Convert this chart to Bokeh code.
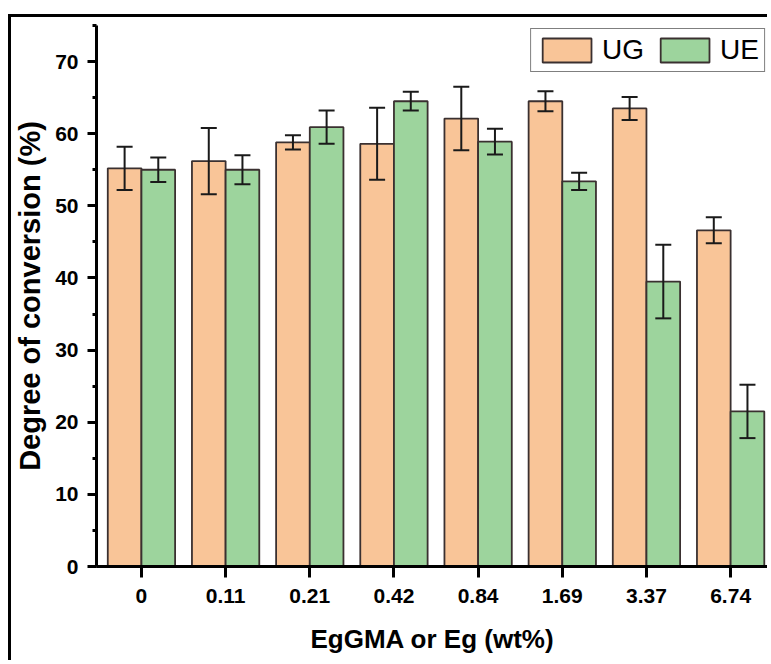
import numpy as np
from bokeh.plotting import figure
from bokeh.models import (ColumnDataSource, Range1d, FixedTicker, SingleIntervalTicker,
                          Whisker, TeeHead)
from bokeh.embed import file_html
from bokeh.resources import INLINE

# ---- data ----
categories = ["0", "0.11", "0.21", "0.42", "0.84", "1.69", "3.37", "6.74"]
ug_values = [55.2, 56.2, 58.8, 58.6, 62.1, 64.5, 63.5, 46.6]
ug_errors = [3.0, 4.6, 1.0, 5.0, 4.4, 1.4, 1.6, 1.8]
ue_values = [55.0, 55.0, 60.9, 64.5, 58.9, 53.4, 39.5, 21.5]
ue_errors = [1.7, 2.0, 2.3, 1.3, 1.8, 1.2, 5.1, 3.7]
series_names = ["UG", "UE"]

UG_COLOR = "#F9C598"
UE_COLOR = "#9DD49D"
EDGE = "#3a3030"
FONT = "'Liberation Sans', Arial, sans-serif"

idx = np.arange(len(categories))
bar_w = 0.4

def make_src(vals, errs, offset):
    v = np.array(vals)
    e = np.array(errs)
    return ColumnDataSource(dict(x=idx + offset, top=v, upper=v + e, lower=v - e))

src_ug = make_src(ug_values, ug_errors, -bar_w / 2)
src_ue = make_src(ue_values, ue_errors, bar_w / 2)

p = figure(width=759, height=646, output_backend="svg", toolbar_location=None,
           x_range=Range1d(-0.534, 7.45), y_range=Range1d(0, 75),
           min_border_left=84, min_border_right=2, min_border_top=8, min_border_bottom=97)
# outer picture frame: only its left and top edges are inside the picture
p.styles = {"border-left": "3px solid black", "border-top": "3px solid black",
            "margin-left": "8px", "margin-top": "14px"}

p.vbar(x="x", top="top", width=bar_w, source=src_ug, fill_color=UG_COLOR,
       line_color=EDGE, line_width=1.8, legend_label=series_names[0])
p.vbar(x="x", top="top", width=bar_w, source=src_ue, fill_color=UE_COLOR,
       line_color=EDGE, line_width=1.8, legend_label=series_names[1])

for src in (src_ug, src_ue):
    w = Whisker(source=src, base="x", upper="upper", lower="lower",
                line_color="#1a1a1a", line_width=2, level="annotation",
                upper_head=TeeHead(size=16, line_width=2, line_color="#1a1a1a"),
                lower_head=TeeHead(size=16, line_width=2, line_color="#1a1a1a"))
    p.add_layout(w)

p.xgrid.visible = False
p.ygrid.visible = False
p.outline_line_color = None
p.background_fill_color = "white"
p.border_fill_color = "white"

xa = p.xaxis[0]
xa.ticker = FixedTicker(ticks=[int(i) for i in idx])
xa.major_label_overrides = {int(i): c for i, c in zip(idx, categories)}
xa.axis_label = "EgGMA or Eg (wt%)"
xa.axis_line_width = 3
xa.major_tick_line_width = 3
xa.major_tick_out = 11
xa.major_tick_in = 0
xa.minor_tick_line_color = None
xa.major_label_text_font = FONT
xa.major_label_text_font_style = "bold"
xa.major_label_text_font_size = "21px"
xa.major_label_text_color = "black"
xa.major_label_standoff = 11
xa.axis_label_text_font = FONT
xa.axis_label_text_font_style = "bold"
xa.axis_label_text_font_size = "26px"
xa.axis_label_text_color = "black"
xa.axis_label_standoff = 18

ya = p.yaxis[0]
ya.ticker = SingleIntervalTicker(interval=10, num_minor_ticks=2)
ya.axis_label = "Degree of conversion (%)"
ya.axis_line_width = 3
ya.major_tick_line_width = 3
ya.minor_tick_line_width = 3
ya.major_tick_out = 9
ya.major_tick_in = 0
ya.minor_tick_out = 4
ya.minor_tick_in = 0
ya.major_label_text_font = FONT
ya.major_label_text_font_style = "bold"
ya.major_label_text_font_size = "21px"
ya.major_label_text_color = "black"
ya.major_label_standoff = 9
ya.axis_label_text_font = FONT
ya.axis_label_text_font_style = "bold"
ya.axis_label_text_font_size = "29px"
ya.axis_label_text_color = "black"
ya.axis_label_standoff = 6

lg = p.legend[0]
lg.orientation = "horizontal"
lg.location = "top_right"
lg.margin = 3
lg.padding = 5
lg.spacing = 10
lg.glyph_width = 61
lg.glyph_height = 30
lg.label_standoff = 5
lg.label_text_font = FONT
lg.label_text_font_size = "28px"
lg.label_text_color = "black"
lg.border_line_color = "black"
lg.border_line_width = 1.5
lg.background_fill_alpha = 1.0

open("out.html", "w").write(file_html(p, INLINE))
